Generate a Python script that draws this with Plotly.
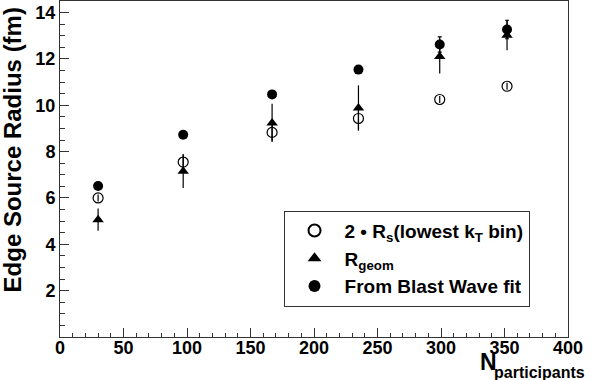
import plotly.graph_objects as go

npart = [30, 97, 167, 235, 299, 352]

rs2 = [6.00, 7.55, 8.83, 9.43, 10.25, 10.82]
rs2_err = [0.15, 0.35, 0.37, 0.48, 0.15, 0.15]

rgeom = [5.06, 7.15, 9.24, 9.88, 12.11, 13.02]
rgeom_err = [0.48, 0.72, 0.83, 0.98, 0.74, 0.65]

blast = [6.52, 8.73, 10.47, 11.54, 12.62, 13.27]
blast_err = [0.0, 0.0, 0.0, 0.0, 0.33, 0.40]

x_ticks = [0, 50, 100, 150, 200, 250, 300, 350, 400]
y_ticks = [2, 4, 6, 8, 10, 12, 14]

FONT = "Liberation Sans"

fig = go.Figure()
fig.add_trace(go.Scatter(
    x=npart, y=rs2, mode="markers", legendgroup="a",
    name="<b>2 • R<sub>s</sub>(lowest k<sub>T</sub> bin)</b>",
    marker=dict(symbol="circle-open", size=10, color="black", line=dict(width=1.2, color="black")),
    error_y=dict(type="data", array=rs2_err, width=0, thickness=1.2, color="black"),
))
fig.add_trace(go.Scatter(
    x=npart, y=rgeom, mode="markers", legendgroup="b",
    name="<b>R<sub>geom</sub></b>",
    marker=dict(symbol="triangle-up", size=10, color="black"),
    error_y=dict(type="data", array=rgeom_err, width=0, thickness=1.2, color="black"),
))
fig.add_trace(go.Scatter(
    x=npart, y=blast, mode="markers", legendgroup="c",
    name="<b>From Blast Wave fit</b>",
    marker=dict(symbol="circle", size=10, color="black"),
    error_y=dict(type="data", array=blast_err, width=2, thickness=1.2, color="black"),
))

axis_common = dict(
    showgrid=False, zeroline=False, showline=True, linecolor="#333", linewidth=1,
    mirror=True, ticks="inside", tickcolor="#333", tickwidth=1,
    tickfont=dict(family=FONT, size=18, color="black", weight="bold"),
)

fig.update_layout(
    width=600, height=380,
    margin=dict(l=60, r=32, t=1, b=43),
    paper_bgcolor="white", plot_bgcolor="white",
    font=dict(family=FONT, color="black"),
    showlegend=True,
    legend=dict(
        x=0.440, y=0.376, xanchor="left", yanchor="top",
        bgcolor="white", bordercolor="#333", borderwidth=1,
        font=dict(family=FONT, size=19, color="black"),
        itemsizing="constant", itemwidth=50, tracegroupgap=0,
    ),
    xaxis=dict(range=[0, 400], tickvals=x_ticks, ticklen=9, ticklabelstandoff=-6,
               minor=dict(dtick=10, tick0=0, ticklen=4, ticks="inside", tickcolor="#333"),
               **axis_common),
    yaxis=dict(range=[0, 14.5], tickvals=y_ticks, ticklen=9,
               minor=dict(dtick=0.5, tick0=0, ticklen=5, ticks="inside", tickcolor="#333"),
               **axis_common),
    annotations=[
        dict(text="<b>Edge Source Radius (fm)</b>", xref="paper", yref="paper",
             x=-0.094, y=0.556, xanchor="center", yanchor="middle", textangle=-90,
             showarrow=False, font=dict(family=FONT, size=24, color="black")),
        dict(text="<b>N</b>", xref="paper", yref="paper",
             x=0.822, y=-0.073, xanchor="left", yanchor="middle",
             showarrow=False, font=dict(family=FONT, size=23, color="black")),
        dict(text="<b>participants</b>", xref="paper", yref="paper",
             x=0.851, y=-0.107, xanchor="left", yanchor="middle",
             showarrow=False, font=dict(family=FONT, size=16, color="black")),
    ],
)

fig.write_html("out.html", config={"displayModeBar": False},
               post_script="document.body.style.margin='0px';")
